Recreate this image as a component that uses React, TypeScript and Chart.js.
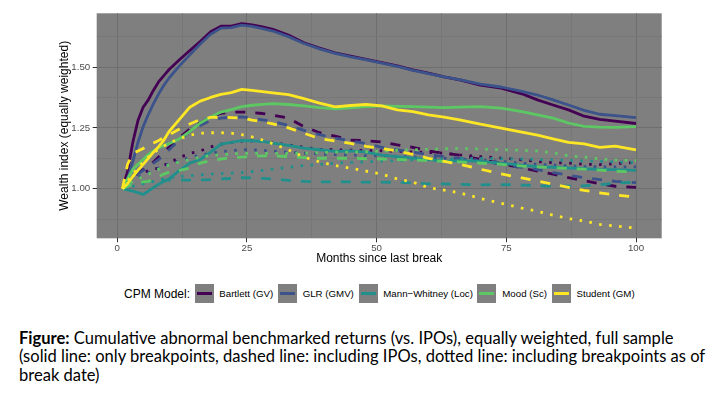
import React, { useEffect, useRef } from "react";
import { Chart, registerables } from "chart.js";

Chart.register(...registerables);

// ---------- data ----------
const months = [1, 2, 3, 4, 5, 6, 7, 8, 9, 10, 12, 14, 16, 18, 20, 22, 24, 26, 28, 30, 33, 36, 39, 42, 45, 48, 51, 54, 57, 60, 63, 66, 70, 74, 78, 81, 84, 87, 90, 93, 96, 100];

const models = ["Bartlett (GV)", "GLR (GMV)", "Mann\u2212Whitney (Loc)", "Mood (Sc)", "Student (GM)"];

const bartlettSolid = [1.0, 1.07, 1.19, 1.28, 1.335, 1.365, 1.405, 1.44, 1.465, 1.49, 1.53, 1.568, 1.605, 1.645, 1.668, 1.668, 1.679, 1.673, 1.665, 1.655, 1.632, 1.6, 1.578, 1.558, 1.545, 1.532, 1.518, 1.505, 1.488, 1.475, 1.46, 1.447, 1.426, 1.413, 1.39, 1.365, 1.344, 1.324, 1.298, 1.285, 1.278, 1.268];
const glrSolid = [1.0, 1.04, 1.11, 1.19, 1.255, 1.305, 1.35, 1.39, 1.425, 1.455, 1.505, 1.55, 1.595, 1.635, 1.66, 1.662, 1.672, 1.667, 1.658, 1.648, 1.625, 1.597, 1.575, 1.556, 1.542, 1.53, 1.516, 1.503, 1.486, 1.473, 1.46, 1.448, 1.43, 1.418, 1.4, 1.385, 1.365, 1.344, 1.322, 1.306, 1.3, 1.292];
const mannSolid = [1.0, 0.995, 0.99, 0.984, 0.976, 0.99, 1.005, 1.018, 1.03, 1.04, 1.075, 1.105, 1.12, 1.15, 1.183, 1.19, 1.198, 1.197, 1.194, 1.187, 1.178, 1.167, 1.16, 1.153, 1.155, 1.15, 1.138, 1.132, 1.126, 1.12, 1.112, 1.115, 1.112, 1.105, 1.096, 1.091, 1.088, 1.085, 1.082, 1.079, 1.078, 1.075];
const moodSolid = [1.0, 1.04, 1.08, 1.1, 1.12, 1.14, 1.155, 1.168, 1.177, 1.185, 1.205, 1.235, 1.27, 1.295, 1.315, 1.325, 1.337, 1.343, 1.347, 1.35, 1.346, 1.34, 1.333, 1.328, 1.332, 1.337, 1.34, 1.338, 1.337, 1.335, 1.333, 1.335, 1.337, 1.331, 1.317, 1.303, 1.29, 1.27, 1.256, 1.253, 1.252, 1.255];
const studentSolid = [1.0, 1.02, 1.05, 1.075, 1.1, 1.125, 1.15, 1.173, 1.2, 1.235, 1.285, 1.335, 1.36, 1.375, 1.388, 1.395, 1.408, 1.404, 1.399, 1.394, 1.387, 1.37, 1.352, 1.336, 1.342, 1.346, 1.34, 1.324, 1.317, 1.303, 1.294, 1.283, 1.265, 1.249, 1.232, 1.22, 1.205, 1.19, 1.184, 1.17, 1.175, 1.16];

const bartlettDashed = [1.0, 1.03, 1.05, 1.065, 1.078, 1.09, 1.11, 1.13, 1.15, 1.17, 1.21, 1.245, 1.27, 1.295, 1.31, 1.314, 1.315, 1.313, 1.309, 1.302, 1.29, 1.255, 1.23, 1.216, 1.2, 1.197, 1.192, 1.18, 1.17, 1.155, 1.146, 1.138, 1.12, 1.103, 1.085, 1.072, 1.06, 1.045, 1.033, 1.02, 1.01, 1.005];
const glrDashed = [1.0, 1.03, 1.045, 1.06, 1.075, 1.09, 1.105, 1.12, 1.14, 1.16, 1.2, 1.235, 1.26, 1.28, 1.29, 1.294, 1.295, 1.29, 1.283, 1.276, 1.26, 1.24, 1.222, 1.208, 1.197, 1.185, 1.17, 1.16, 1.15, 1.14, 1.132, 1.125, 1.114, 1.1, 1.088, 1.078, 1.066, 1.055, 1.045, 1.037, 1.03, 1.025];
const mannDashed = [1.0, 1.01, 1.02, 1.025, 1.028, 1.03, 1.032, 1.033, 1.034, 1.035, 1.035, 1.035, 1.036, 1.037, 1.04, 1.042, 1.045, 1.044, 1.042, 1.04, 1.034, 1.03, 1.028, 1.028, 1.028, 1.027, 1.027, 1.026, 1.024, 1.02, 1.02, 1.018, 1.016, 1.017, 1.015, 1.012, 1.01, 1.01, 1.012, 1.016, 1.022, 1.028];
const moodDashed = [1.0, 1.01, 1.02, 1.025, 1.028, 1.03, 1.04, 1.05, 1.06, 1.068, 1.075, 1.085, 1.105, 1.115, 1.122, 1.128, 1.13, 1.132, 1.135, 1.135, 1.132, 1.128, 1.125, 1.125, 1.125, 1.123, 1.122, 1.12, 1.118, 1.115, 1.112, 1.11, 1.105, 1.1, 1.093, 1.09, 1.086, 1.083, 1.08, 1.076, 1.072, 1.068];
const studentDashed = [1.0, 1.1, 1.145, 1.155, 1.165, 1.178, 1.188, 1.198, 1.21, 1.222, 1.245, 1.266, 1.284, 1.293, 1.294, 1.292, 1.29, 1.282, 1.275, 1.266, 1.25, 1.228, 1.206, 1.196, 1.186, 1.174, 1.165, 1.155, 1.141, 1.125, 1.112, 1.1, 1.08, 1.061, 1.044, 1.031, 1.018, 1.005, 0.993, 0.983, 0.974, 0.966];

const bartlettDotted = [1.0, 1.03, 1.05, 1.062, 1.068, 1.073, 1.078, 1.087, 1.096, 1.105, 1.128, 1.145, 1.155, 1.172, 1.183, 1.19, 1.196, 1.197, 1.195, 1.188, 1.18, 1.17, 1.162, 1.16, 1.158, 1.157, 1.156, 1.154, 1.151, 1.149, 1.146, 1.139, 1.132, 1.126, 1.119, 1.111, 1.107, 1.105, 1.1, 1.099, 1.103, 1.108];
const glrDotted = [1.0, 1.02, 1.035, 1.045, 1.055, 1.065, 1.075, 1.085, 1.095, 1.1, 1.115, 1.128, 1.138, 1.146, 1.152, 1.157, 1.16, 1.16, 1.158, 1.155, 1.15, 1.146, 1.143, 1.14, 1.138, 1.136, 1.135, 1.133, 1.13, 1.128, 1.125, 1.122, 1.118, 1.112, 1.105, 1.1, 1.097, 1.094, 1.091, 1.09, 1.09, 1.09];
const mannDotted = [1.0, 1.005, 1.01, 1.015, 1.02, 1.025, 1.03, 1.035, 1.04, 1.044, 1.05, 1.054, 1.057, 1.06, 1.062, 1.064, 1.066, 1.07, 1.075, 1.08, 1.088, 1.095, 1.1, 1.105, 1.108, 1.11, 1.113, 1.115, 1.118, 1.12, 1.122, 1.124, 1.125, 1.124, 1.122, 1.12, 1.118, 1.116, 1.114, 1.112, 1.11, 1.108];
const moodDotted = [1.0, 1.015, 1.03, 1.04, 1.05, 1.06, 1.07, 1.08, 1.09, 1.097, 1.11, 1.12, 1.13, 1.136, 1.14, 1.143, 1.145, 1.145, 1.145, 1.145, 1.145, 1.146, 1.148, 1.15, 1.15, 1.152, 1.155, 1.158, 1.16, 1.162, 1.164, 1.165, 1.163, 1.16, 1.158, 1.155, 1.148, 1.135, 1.13, 1.122, 1.118, 1.115];
const studentDotted = [1.0, 1.03, 1.06, 1.085, 1.11, 1.13, 1.148, 1.162, 1.175, 1.188, 1.205, 1.22, 1.228, 1.23, 1.23, 1.228, 1.222, 1.213, 1.2, 1.185, 1.16, 1.13, 1.11, 1.095, 1.084, 1.072, 1.06, 1.04, 1.027, 1.004, 0.994, 0.983, 0.96, 0.94, 0.92, 0.907, 0.891, 0.877, 0.867, 0.853, 0.847, 0.838];

const xMajorTicks = [0, 25, 50, 75, 100];
const xMinorTicks = [12.5, 37.5, 62.5, 87.5];
const yMajorTicks = [1.0, 1.25, 1.5];
const yMinorTicks = [0.875, 1.125, 1.375, 1.625];

// ---------- styles ----------
const modelColors = ["#440154", "#3B528B", "#21908C", "#5DC863", "#FDE725"];
const FONT = "'Liberation Sans', Arial, Helvetica, sans-serif";

type Series = { model: number; kind: "solid" | "dashed" | "dotted"; values: number[] };

const seriesList: Series[] = [
  { model: 0, kind: "solid", values: bartlettSolid },
  { model: 0, kind: "dashed", values: bartlettDashed },
  { model: 0, kind: "dotted", values: bartlettDotted },
  { model: 1, kind: "solid", values: glrSolid },
  { model: 1, kind: "dashed", values: glrDashed },
  { model: 1, kind: "dotted", values: glrDotted },
  { model: 2, kind: "solid", values: mannSolid },
  { model: 2, kind: "dashed", values: mannDashed },
  { model: 2, kind: "dotted", values: mannDotted },
  { model: 3, kind: "solid", values: moodSolid },
  { model: 3, kind: "dashed", values: moodDashed },
  { model: 3, kind: "dotted", values: moodDotted },
  { model: 4, kind: "solid", values: studentSolid },
  { model: 4, kind: "dashed", values: studentDashed },
  { model: 4, kind: "dotted", values: studentDotted },
];

const dashFor = (k: string) => (k === "solid" ? [] : k === "dashed" ? [10, 10] : [2.6, 7.4]);

const panelBackground = {
  id: "panelBackground",
  beforeDraw(chart: any) {
    const { ctx, chartArea: a } = chart;
    ctx.save();
    ctx.fillStyle = "#7f7f7f";
    ctx.fillRect(a.left, a.top, a.right - a.left, a.bottom - a.top);
    ctx.restore();
  },
};

const isMajor = (v: number, majors: number[]) => majors.some((m) => Math.abs(m - v) < 1e-9);

function ChartCanvas() {
  const ref = useRef<HTMLCanvasElement | null>(null);
  useEffect(() => {
    if (!ref.current) return;
    // drawn so that later models end up on top (dataset 0 is drawn last)
    const datasets = seriesList
      .map((s) => ({
        label: models[s.model] + " " + s.kind,
        data: months.map((m, i) => ({ x: m, y: s.values[i] })),
        borderColor: modelColors[s.model],
        backgroundColor: modelColors[s.model],
        borderWidth: 2.8,
        borderDash: dashFor(s.kind),
        borderCapStyle: "butt" as const,
        borderJoinStyle: "round" as const,
        pointRadius: 0,
        tension: 0,
        fill: false,
      }))
      .reverse();

    const chart = new Chart(ref.current, {
      type: "line",
      data: { datasets },
      plugins: [panelBackground],
      options: {
        animation: false,
        responsive: false,
        maintainAspectRatio: false,
        layout: { padding: { left: 0, right: 58.3, top: 13.3, bottom: 0 } },
        plugins: { legend: { display: false }, tooltip: { enabled: false } },
        scales: {
          x: {
            type: "linear",
            min: -3.95,
            max: 104.95,
            afterBuildTicks: (s: any) => {
              s.ticks = [...xMajorTicks, ...xMinorTicks].sort((a, b) => a - b).map((v) => ({ value: v }));
            },
            afterFit: (s: any) => {
              s.height = 31.7;
            },
            ticks: {
              autoSkip: false,
              maxRotation: 0,
              padding: 0,
              color: "#4d4d4d",
              font: { family: FONT, size: 9.7 },
              callback: (v: any) => (isMajor(Number(v), xMajorTicks) ? String(v) : ""),
            },
            grid: {
              color: (c: any) => (isMajor(c.tick.value, xMajorTicks) ? "#6e6e6e" : "#777777"),
              lineWidth: 1,
              tickColor: (c: any) => (isMajor(c.tick.value, xMajorTicks) ? "#333333" : "rgba(0,0,0,0)"),
              tickLength: 4,
              drawTicks: true,
            },
            border: { display: false },
            title: {
              display: true,
              text: "Months since last break",
              color: "#000000",
              font: { family: FONT, size: 12 },
              padding: { top: 0, bottom: 4.3 },
            },
          },
          y: {
            type: "linear",
            min: 0.796,
            max: 1.721,
            afterBuildTicks: (s: any) => {
              s.ticks = [...yMajorTicks, ...yMinorTicks].sort((a, b) => a - b).map((v) => ({ value: v }));
            },
            afterFit: (s: any) => {
              s.width = 96.7;
            },
            ticks: {
              autoSkip: false,
              padding: 2.5,
              color: "#4d4d4d",
              font: { family: FONT, size: 9.7 },
              callback: (v: any) => (isMajor(Number(v), yMajorTicks) ? Number(v).toFixed(2) : ""),
            },
            grid: {
              color: (c: any) => (isMajor(c.tick.value, yMajorTicks) ? "#6e6e6e" : "#777777"),
              lineWidth: 1,
              tickColor: (c: any) => (isMajor(c.tick.value, yMajorTicks) ? "#333333" : "rgba(0,0,0,0)"),
              tickLength: 4,
              drawTicks: true,
            },
            border: { display: false },
            title: {
              display: true,
              text: "Wealth index (equally weighted)",
              color: "#000000",
              font: { family: FONT, size: 12 },
              padding: { top: 57.3, bottom: 0 },
            },
          },
        },
      },
    });
    return () => chart.destroy();
  }, []);
  return <canvas ref={ref} width={720} height={270} style={{ position: "absolute", left: 0, top: 0, width: 720, height: 270 }} />;
}

const legendBoxLeft = [195, 278.3, 359.3, 477.3, 552];
const legendTextLeft = [219.3, 302.7, 383.3, 502.3, 576.5];

function Legend() {
  return (
    <>
      <div
        style={{
          position: "absolute",
          left: 0,
          width: 190,
          top: 286.5,
          lineHeight: "14px",
          fontSize: 12,
          fontFamily: FONT,
          textAlign: "right",
          color: "#000",
          whiteSpace: "nowrap",
        }}
      >
        CPM Model:
      </div>
      {models.map((m, i) => (
        <React.Fragment key={m}>
          <div
            style={{
              position: "absolute",
              left: legendBoxLeft[i],
              top: 284.3,
              width: 18.7,
              height: 18.8,
              background: "#7f7f7f",
            }}
          >
            <div
              style={{
                position: "absolute",
                left: 1.9,
                width: 14.9,
                top: 8,
                height: 2.8,
                background: modelColors[i],
              }}
            />
          </div>
          <div
            style={{
              position: "absolute",
              left: legendTextLeft[i],
              top: 287.7,
              lineHeight: "12px",
              fontSize: 9.7,
              fontFamily: FONT,
              color: "#000",
              whiteSpace: "nowrap",
            }}
          >
            {m}
          </div>
        </React.Fragment>
      ))}
    </>
  );
}

function Caption() {
  return (
    <div
      style={{
        position: "absolute",
        left: 19,
        top: 328.8,
        fontFamily: "Lato, 'Noto Sans', sans-serif",
        fontSize: 16.55,
        lineHeight: "18.5px",
        color: "#000",
        whiteSpace: "nowrap",
      }}
    >
      <b>Figure:</b> Cumulative abnormal benchmarked returns (vs. IPOs), equally weighted, full sample
      <br />
      (solid line: only breakpoints, dashed line: including IPOs, dotted line: including breakpoints as of
      <br />
      break date)
    </div>
  );
}

export default function App() {
  return (
    <div style={{ position: "absolute", left: 0, top: 0, width: 720, height: 397, background: "#fff", overflow: "hidden" }}>
      <ChartCanvas />
      <Legend />
      <Caption />
    </div>
  );
}
